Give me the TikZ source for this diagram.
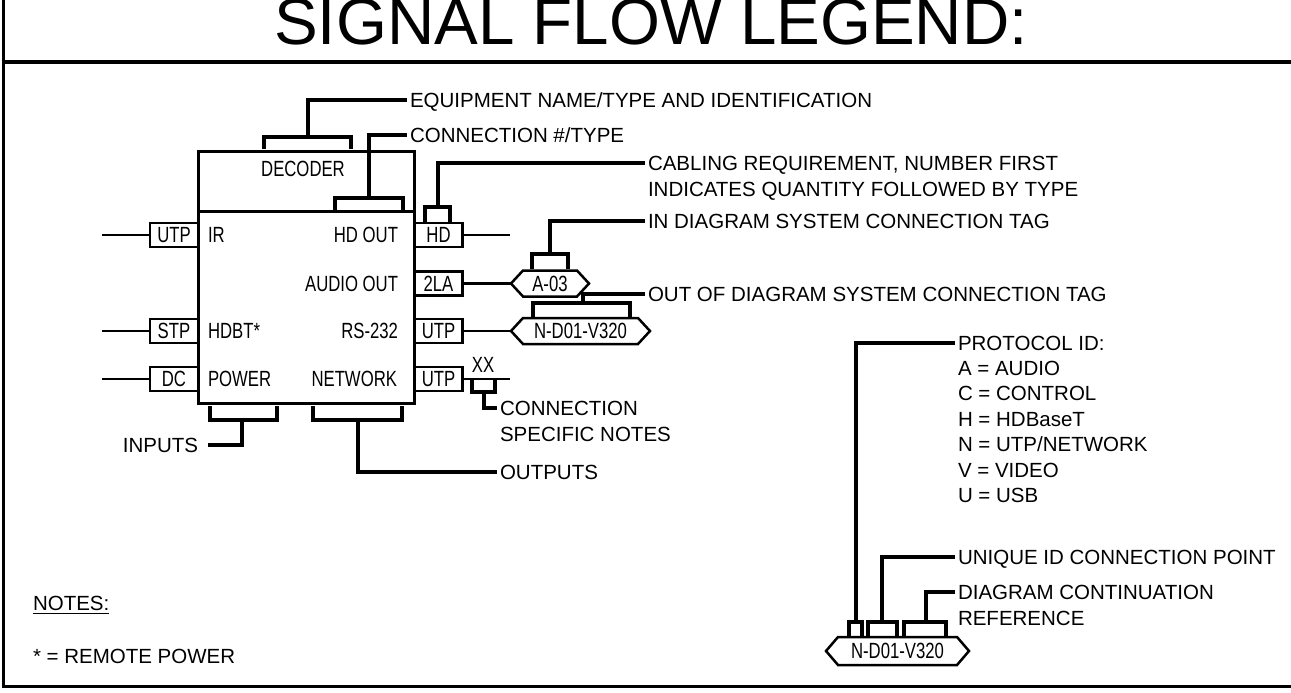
\documentclass[tikz,border=0pt]{standalone}
\usepackage{fontspec}
\setmainfont{Liberation Sans}
\newfontfamily\narrowfont[FakeStretch=0.76]{Liberation Sans}
\begin{document}
\begin{tikzpicture}[x=1pt,y=-1pt,
  txt/.style={font=\fontsize{20.5pt}{25pt}\selectfont, inner sep=0pt, inner xsep=3pt, outer sep=0pt, text height=14.7pt, text depth=0pt, anchor=west},
  nar/.style={font=\narrowfont\fontsize{22pt}{26pt}\selectfont, inner sep=0pt, outer sep=0pt, text height=15.8pt, text depth=0pt},
  sbox/.style={nar, draw, line width=2.5pt, minimum width=48pt, minimum height=24pt},
  tagbody/.style={nar, minimum height=26pt},
  tagline/.style={line width=2.5pt, line join=miter},
  brk/.style={line width=4pt},
  wire/.style={line width=2.5pt},
  frame/.style={line width=3pt}]
\useasboundingbox (0,0) rectangle (1291,693);
% frame and title
\draw[frame] (3,-3) -- (3,686) -- (1294,686);
\draw[line width=3.5pt] (3,62) -- (1294,62);
\node[font=\fontsize{65.5pt}{70pt}\selectfont, anchor=base, inner sep=0pt] (title) at (651,45) {SIGNAL FLOW LEGEND:};

% main equipment box
\node[draw, line width=3pt, minimum width=216pt, minimum height=252pt, inner sep=0pt, outer sep=0pt] (dec) at (306,277) {};
\draw[line width=3pt] ([yshift=-60pt]dec.north west) -- ([yshift=-60pt]dec.north east);
\node[nar] (decname) at (303,169) {DECODER};

% port labels
\node[nar, anchor=west] (ir) at (208,235) {IR};
\node[nar, anchor=west] (hdbt) at (208,331) {HDBT*};
\node[nar, anchor=west] (pwr) at (208,379) {POWER};
\node[nar, anchor=east] (hdout) at (398,235) {HD OUT};
\node[nar, anchor=east] (aout) at (398,283.5) {AUDIO OUT};
\node[nar, anchor=east] (rs) at (398,331) {RS-232};
\node[nar, anchor=east] (net) at (397,379) {NETWORK};

% cable boxes
\node[sbox] (bl1) at (174,235) {UTP};
\node[sbox] (bl2) at (174,331) {STP};
\node[sbox] (bl3) at (174,379) {DC};
\node[sbox] (br1) at (438.5,235) {HD};
\node[sbox] (br2) at (438.5,283.5) {2LA};
\node[sbox] (br3) at (438.5,331) {UTP};
\node[sbox] (br4) at (438.5,379) {UTP};

% tags
\node[tagbody, minimum width=54pt] (tagA) at (550,283.5) {A-03};
\draw[tagline] (tagA.north west) -- (tagA.north east) -- ([xshift=12pt]tagA.east) -- (tagA.south east) -- (tagA.south west) -- ([xshift=-12pt]tagA.west) -- cycle;
\node[tagbody, minimum width=115pt] (tagN) at (580.5,331) {N-D01-V320};
\draw[tagline] (tagN.north west) -- (tagN.north east) -- ([xshift=12pt]tagN.east) -- (tagN.south east) -- (tagN.south west) -- ([xshift=-12pt]tagN.west) -- cycle;
\node[tagbody, minimum width=119pt, minimum height=28pt] (tagB) at (897.5,651) {N-D01-V320};
\draw[tagline] (tagB.north west) -- (tagB.north east) -- ([xshift=12pt]tagB.east) -- (tagB.south east) -- (tagB.south west) -- ([xshift=-12pt]tagB.west) -- cycle;

% wires
\coordinate (w1) at (102,235);
\coordinate (w2) at (102,331);
\coordinate (w3) at (102,379);
\coordinate (w4) at (510,235);
\coordinate (w5) at (510,379);
\draw[wire] (w1) -- (bl1.west);
\draw[wire] (w2) -- (bl2.west);
\draw[wire] (w3) -- (bl3.west);
\draw[wire] (br1.east) -- (w4);
\draw[wire] (br2.east) -- ([xshift=-12pt]tagA.west);
\draw[wire] (br3.east) -- ([xshift=-12pt]tagN.west);
\draw[wire] (br4.east) -- (w5);
\node[nar] (xx) at (483,365) {XX};

% labels
\node[txt] (eq) at (407,100) {EQUIPMENT NAME/TYPE AND IDENTIFICATION};
\node[txt] (cn) at (407,135) {CONNECTION \#/TYPE};
\node[txt] (cab) at (645,163) {CABLING REQUIREMENT, NUMBER FIRST};
\node[txt] (cab2) at (645,189) {INDICATES QUANTITY FOLLOWED BY TYPE};
\node[txt] (ind) at (645,221) {IN DIAGRAM SYSTEM CONNECTION TAG};
\node[txt] (outd) at (645,294) {OUT OF DIAGRAM SYSTEM CONNECTION TAG};
\node[txt] (csn) at (497,408) {CONNECTION};
\node[txt] (csn2) at (497,434) {SPECIFIC NOTES};
\node[txt, anchor=east, inner xsep=10pt] (inp) at (208,445) {INPUTS};
\node[txt] (outp) at (497,472) {OUTPUTS};
\node[txt] (proto) at (955,343) {PROTOCOL ID:};
\node[txt] (pa) at (955,368) {A = AUDIO};
\node[txt] (pc) at (955,393.5) {C = CONTROL};
\node[txt] (ph) at (955,419) {H = HDBaseT};
\node[txt] (pn) at (955,444.5) {N = UTP/NETWORK};
\node[txt] (pv) at (955,470) {V = VIDEO};
\node[txt] (pu) at (955,495.5) {U = USB};
\node[txt] (uid) at (955,557) {UNIQUE ID CONNECTION POINT};
\node[txt] (dcr) at (955,592) {DIAGRAM CONTINUATION};
\node[txt] (dcr2) at (955,618) {REFERENCE};
\node[txt] (notes) at (30,603) {NOTES:};
\draw[line width=1.5pt] ([xshift=3pt,yshift=-3pt]notes.south west) -- ([xshift=-3pt,yshift=-3pt]notes.south east);
\node[txt] (rp) at (30,656) {* = REMOTE POWER};

% brackets and leaders
\draw[brk] (264,149) |- (308,137) -| (351,149);
\draw[brk] (308,137) |- (eq.west);
\draw[brk] (335,209.5) |- (369,198) -| (403,209.5);
\draw[brk] (369,198) |- (cn.west);
\draw[brk] (425,221.5) |- (438,207) -| (450,221.5);
\draw[brk] (438,207) |- (cab.west);
\draw[brk] (532,268.5) |- (550,254) -| (568,268.5);
\draw[brk] (550,254) |- (ind.west);
\draw[brk] (533,316.5) |- (583,303) -| (630,316.5);
\draw[brk] (583,303) |- (outd.west);
\draw[brk] (472,380) |- (484,392) -| (495,380);
\draw[brk] (484,392) |- (csn.west);
\draw[brk] (210,406) |- (242,420) -| (277,406);
\draw[brk] (242,420) |- (inp.east);
\draw[brk] (313,406) |- (358,420) -| (402,406);
\draw[brk] (358,420) |- (outp.west);
\draw[brk] (849,635.5) |- (856,622) -| (862,635.5);
\draw[brk] (856,622) |- (proto.west);
\draw[brk] (868,635.5) |- (882,622) -| (897,635.5);
\draw[brk] (882,622) |- (uid.west);
\draw[brk] (904,635.5) |- (926,622) -| (946,635.5);
\draw[brk] (926,622) |- (dcr.west);
\end{tikzpicture}
\end{document}
